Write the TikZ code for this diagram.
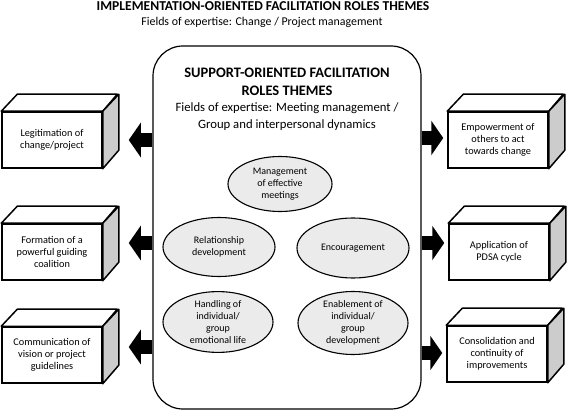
\documentclass[tikz,border=0pt]{standalone}
\usepackage{fontspec}
\setmainfont{Carlito}
\usetikzlibrary{arrows.meta,calc,shapes.geometric}
\begin{document}
\begin{tikzpicture}[x=1pt,y=-1pt,
  front/.style={draw,line width=1.5pt,fill=white,minimum width=100pt,minimum height=56pt,align=center,font=\fontsize{10.3}{12}\selectfont,inner sep=0pt},
  side/.style={draw,line width=1.5pt,fill=gray!40,line join=round},
  topf/.style={draw,line width=1.5pt,fill=white,line join=round},
  oval/.style={draw,ellipse,line width=1.1pt,fill=black!8,align=center,inner sep=0pt,font=\fontsize{10}{12}\selectfont},
  fat/.style={line width=14pt,-{Triangle[width=34pt,length=12pt]}}
]
\useasboundingbox (0,0) rectangle (567,411);
% titles
\node[font=\fontsize{13.6}{15}\selectfont\bfseries] (t1) at (263,6) {IMPLEMENTATION-ORIENTED FACILITATION ROLES THEMES};
\node[font=\fontsize{11.9}{13}\selectfont] (t2) at (262,22) {Fields of expertise: Change / Project management};
% central box
\node[draw,line width=1.2pt,rounded corners=30pt,minimum width=268pt,minimum height=363pt,inner sep=0pt] (C) at (287,227.5) {};
\node[font=\fontsize{14.5}{18}\selectfont\bfseries,align=center] (h1) at (287,82) {SUPPORT-ORIENTED FACILITATION\\ROLES THEMES};
\node[font=\fontsize{12.7}{17}\selectfont,align=center] (h2) at (287,116.5) {Fields of expertise: Meeting management /\\Group and interpersonal dynamics};
% ellipses
\node[oval,minimum width=104pt,minimum height=55pt] (E1) at (280,184) {Management\\of effective\\meetings};
\node[oval,minimum width=112pt,minimum height=59pt] (E2) at (219,247) {Relationship\\development};
\node[oval,minimum width=112pt,minimum height=60pt] (E3) at (353,248) {Encouragement};
\node[oval,minimum width=110pt,minimum height=59pt] (E4) at (218,322) {Handling of\\individual/\\group\\emotional life};
\node[oval,minimum width=110pt,minimum height=60pt] (E5) at (353,323) {Enablement of\\individual/\\group\\development};
% left boxes
\node[front] (L1) at (52,140) {Legitimation of\\change/project};
\node[front] (L2) at (52,252) {Formation of a\\powerful guiding\\coalition};
\node[front] (L3) at (52,355) {Communication of\\vision or project\\guidelines};
% right boxes
\node[front] (R1) at (498,140) {Empowerment of\\others to act\\towards change};
\node[front] (R2) at (499,252) {Application of\\PDSA cycle};
\node[front] (R3) at (497,354) {Consolidation and\\continuity of\\improvements};
\foreach \b in {L1,L2,L3,R1,R2,R3}{
  \draw[topf] (\b.north west) -- ++(16,-17) -- ++(100,0) -- (\b.north east) -- cycle;
  \draw[side] (\b.north east) -- ++(16,-17) -- ++(0,56) -- (\b.south east) -- cycle;
}
% arrows
\draw[fat,shorten >=26pt] (C.west |- 0,140) -- (L1.east |- 0,140);
\draw[fat,shorten >=26pt] (C.west |- 0,243) -- (L2.east |- 0,243);
\draw[fat,shorten >=26pt] (C.west |- 0,347) -- (L3.east |- 0,347);
\draw[fat,shorten >=4pt] (C.east |- 0,138) -- (R1.west |- 0,138);
\draw[fat,shorten >=4pt] (C.east |- 0,243) -- (R2.west |- 0,243);
\draw[fat,shorten >=4pt] (C.east |- 0,353) -- (R3.west |- 0,353);
\end{tikzpicture}
\end{document}
